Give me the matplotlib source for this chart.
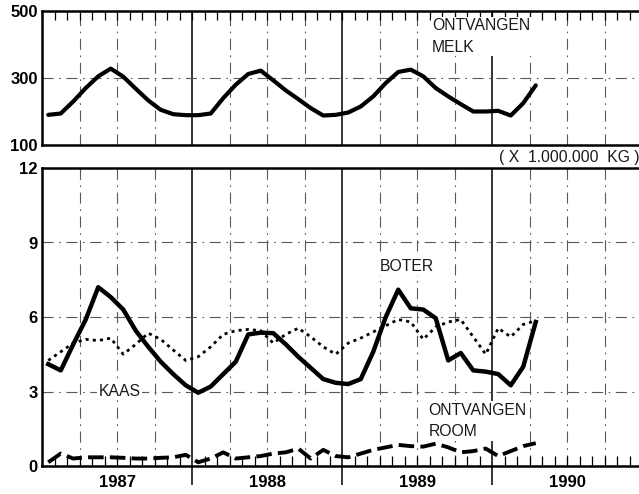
import matplotlib
matplotlib.use("Agg")
import matplotlib.pyplot as plt
import numpy as np

# Monthly data, Jan 1987 .. Apr 1990 (x = months since Jan 1987, mid-month)
months = np.arange(40) + 0.5

melk = [190, 194, 230, 270, 305, 328, 304, 268, 233, 205, 192, 189,
        189, 194, 240, 280, 312, 322, 293, 263, 237, 210, 188, 190,
        197, 215, 245, 285, 318, 325, 305, 270, 245, 222, 200, 200,
        202, 188, 225, 278]

boter = [4.1, 3.85, 4.9, 5.9, 7.2, 6.8, 6.3, 5.45, 4.8, 4.2, 3.7, 3.25,
         2.95, 3.2, 3.7, 4.2, 5.3, 5.37, 5.35, 4.9, 4.4, 3.95, 3.5, 3.35,
         3.3, 3.5, 4.6, 6.0, 7.1, 6.35, 6.3, 5.95, 4.25, 4.55, 3.85, 3.8,
         3.7, 3.25, 4.0, 5.8]

kaas = [4.25, 4.6, 4.95, 5.1, 5.05, 5.15, 4.5, 4.9, 5.35, 5.1, 4.67, 4.25,
        4.4, 4.8, 5.3, 5.45, 5.5, 5.45, 4.95, 5.3, 5.55, 5.2, 4.8, 4.5,
        4.95, 5.15, 5.4, 5.65, 5.9, 5.8, 5.1, 5.6, 5.8, 5.9, 5.2, 4.5,
        5.55, 5.2, 5.7, 5.85]

room = [0.15, 0.5, 0.3, 0.35, 0.35, 0.35, 0.33, 0.3, 0.3, 0.33, 0.35, 0.45,
        0.15, 0.3, 0.55, 0.3, 0.35, 0.4, 0.5, 0.55, 0.7, 0.3, 0.65, 0.4,
        0.35, 0.5, 0.65, 0.75, 0.85, 0.8, 0.78, 0.9, 0.75, 0.55, 0.6, 0.7,
        0.4, 0.6, 0.8, 0.92]

years = ["1987", "1988", "1989", "1990"]
top_yticks = [100, 300, 500]
bot_yticks = [0, 3, 6, 9, 12]

plt.rcParams['font.family'] = ['Liberation Sans', 'DejaVu Sans']

fig = plt.figure(figsize=(6.39, 4.94), dpi=100)
W, H = 639, 494
left = 42 / W
width = 600 / W
ax1 = fig.add_axes([left, 1 - 145 / H, width, 134 / H])
ax2 = fig.add_axes([left, 1 - 466 / H, width, 298 / H])

gridstyle = dict(color='0.35', lw=0.8, ls=(0, (10, 5, 1.5, 5)))

for ax, yt, ylim in [(ax1, top_yticks, (100, 500)), (ax2, bot_yticks, (0, 12))]:
    ax.set_xlim(0, 48)
    ax.set_ylim(*ylim)
    for q in range(3, 48, 3):
        if q % 12 == 0:
            ax.axvline(q, color='black', lw=1.1, zorder=1)
        else:
            ax.axvline(q, zorder=1, **gridstyle)
    for y in yt[1:-1]:
        ax.axhline(y, zorder=1, **gridstyle)
    ax.set_yticks(yt)
    ax.set_yticklabels([str(v) for v in yt], fontweight='bold', fontsize=12)
    ax.tick_params(axis='y', length=0, pad=3)
    ax.spines['right'].set_visible(False)
    for s in ['left', 'top', 'bottom']:
        ax.spines[s].set_linewidth(1.8)

# top panel ticks: monthly ticks at top pointing inward
ax1.set_xticks(np.arange(0, 49, 1))
ax1.tick_params(axis='x', which='both', bottom=False, top=True, direction='in',
                length=6.5, width=0.9, labelbottom=False)

# bottom panel: monthly inward ticks at bottom, year boundaries outward
ax2.set_xticks(np.arange(1, 48, 1), minor=True)
ax2.tick_params(axis='x', which='minor', bottom=True, top=False, direction='in',
                length=7.5, width=0.9)
ax2.set_xticks([12, 24, 36])
ax2.set_xticklabels([])
ax2.tick_params(axis='x', which='major', bottom=True, top=False, direction='out',
                length=14, width=1.1)
for i, yr in enumerate(years):
    ax2.text(6 + 12 * i, -0.35, yr, ha='center', va='top', fontweight='bold',
             fontsize=12, transform=ax2.transData)

# data
ax1.plot(months, melk, color='black', lw=3.0, solid_joinstyle='round',
         solid_capstyle='round', zorder=3)
ax2.plot(months, boter, color='black', lw=3.2, solid_joinstyle='round', zorder=4)
ax2.plot(months, kaas, color='black', lw=2.0, ls=(0, (1.1, 1.5)), zorder=3)
ax2.plot(months, room, color='black', lw=2.8, ls=(0, (4, 1.6)), zorder=3)

# annotations
box = dict(facecolor='white', edgecolor='none', pad=1.0)
lab = dict(fontsize=11.3, color='0.1', zorder=2)
ax1.text(31.2, 478, "ONTVANGEN\nMELK", ha='left', va='top', linespacing=1.55,
         bbox=box, **lab)
ax2.text(47.8, 12.12, "( X  1.000.000  KG )", ha='right', va='bottom',
         clip_on=False, **lab)
ax2.text(27.0, 8.05, "BOTER", ha='left', va='center', bbox=box, **lab)
ax2.text(4.5, 3.0, "KAAS", ha='left', va='center', bbox=box, **lab)
ax2.text(30.9, 2.55, "ONTVANGEN\nROOM", ha='left', va='top', linespacing=1.55,
         bbox=box, **lab)

fig.savefig("out.png", dpi=100)
